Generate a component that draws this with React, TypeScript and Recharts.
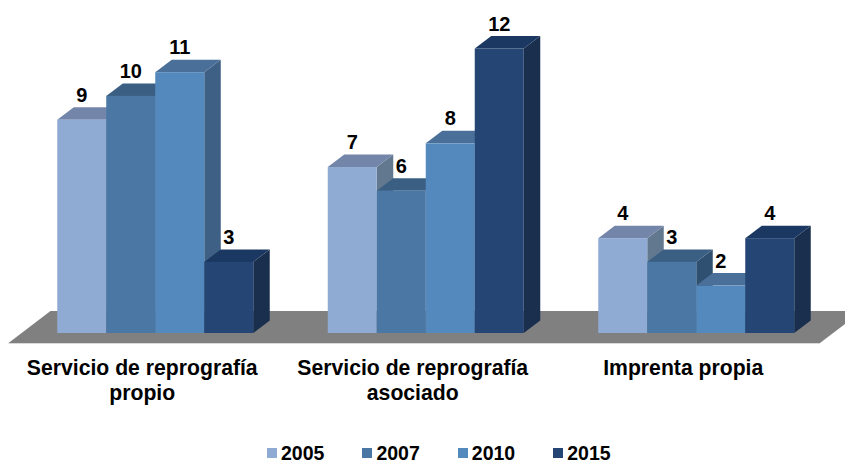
import React from "react";
import { BarChart, Bar, XAxis, YAxis, Legend, LabelList, usePlotArea } from "recharts";

const categories = [
  ["Servicio de reprografía", "propio"],
  ["Servicio de reprografía", "asociado"],
  ["Imprenta propia"],
];
const years = ["2005", "2007", "2010", "2015"];
const v2005 = [9, 7, 4];
const v2007 = [10, 6, 3];
const v2010 = [11, 8, 2];
const v2015 = [3, 12, 4];
const seriesValues = [v2005, v2007, v2010, v2015];
const fronts = ["#8FABD4", "#4A77A3", "#5389BD", "#254674"];
const tops = ["#7386AA", "#3B5F83", "#4A7099", "#1B3862"];
const sides = ["#62788F", "#2F5070", "#3E6085", "#1A2F4E"];

const data = categories.map((c, i) => {
  const row: any = { key: c.join(" ") };
  years.forEach((y, s) => (row[y] = seriesValues[s][i]));
  return row;
});

const FONT = '"Liberation Sans", Arial, sans-serif';
const DX = 16.5;
const DY = 12.5;

function Floor() {
  const p = usePlotArea();
  if (!p) return null;
  const base = p.y + p.height;
  const l = p.x;
  const r = p.x + p.width;
  const pts = [
    [l - 12, base + 10],
    [l + 30, base - 22],
    [r + 30, base - 22],
    [r - 12, base + 10],
  ];
  return (
    <g>
      <polygon points={pts.map((q) => q.join(",")).join(" ")} fill="#808080" />
      <line x1={l - 12} x2={r - 12} y1={base + 10.5} y2={base + 10.5} stroke="#D9D9D9" strokeWidth={1} />
    </g>
  );
}

function Bar3D(props: any) {
  const { x, y, width, height, idx } = props;
  const b = y + height;
  const r = x + width;
  return (
    <g>
      <polygon
        points={`${r},${y} ${r + DX},${y - DY} ${r + DX},${b - DY} ${r},${b}`}
        fill={sides[idx]}
      />
      <polygon
        points={`${x},${y} ${x + DX},${y - DY} ${r + DX},${y - DY} ${r},${y}`}
        fill={tops[idx]}
      />
      <rect x={x} y={y} width={width} height={height} fill={fronts[idx]} />
    </g>
  );
}

function CatTick(props: any) {
  const { x, y, index } = props;
  const lines = categories[index] || [];
  return (
    <text x={x - 13.5} y={y} textAnchor="middle" fontFamily={FONT} fontWeight="bold" fontSize={21.2} fill="#000">
      {lines.map((t, i) => (
        <tspan key={i} x={x - 13.5} y={y + 34 + i * 25}>
          {t}
        </tspan>
      ))}
    </text>
  );
}

function ValueLabel(props: any) {
  const { x, y, width, value } = props;
  return (
    <text x={x + width / 2} y={y - 18} textAnchor="middle" fontFamily={FONT} fontWeight="bold" fontSize={20} fill="#000">
      {value}
    </text>
  );
}

function LegendBox() {
  return (
    <div style={{ position: "relative", width: 845, height: 24 }}>
      {years.map((y, i) => (
        <div
          key={y}
          style={{
            position: "absolute",
            left: 267 + i * 95.4,
            top: 2,
            width: 90,
            height: 22,
            display: "flex",
            alignItems: "center",
            fontFamily: FONT,
            fontWeight: "bold",
            fontSize: 19.5,
            lineHeight: "22px",
            color: "#000",
          }}
        >
          <span style={{ display: "block", width: 10, height: 10, marginRight: 4, background: fronts[i] }} />
          <span style={{ display: "block", whiteSpace: "nowrap" }}>{y}</span>
        </div>
      ))}
    </div>
  );
}

export default function App() {
  return (
    <div style={{ position: "absolute", left: 0, top: 0, width: 845, height: 464, background: "#fff" }}>
      <BarChart
        width={845}
        height={464}
        data={data}
        margin={{ top: 48.5, right: 13, bottom: 0, left: 20.5 }}
        barCategoryGap={36.75}
        barGap={0}
      >
        <Floor />
        <XAxis dataKey="key" axisLine={false} tickLine={false} height={107} interval={0} tick={<CatTick />} />
        <YAxis hide domain={[0, 12]} />
        <Legend
          verticalAlign="bottom"
          content={<LegendBox />}
          wrapperStyle={{ left: 0, bottom: 0, width: 845, height: 24 }}
        />
        {years.map((y, i) => (
          <Bar key={y} dataKey={y} name={y} isAnimationActive={false} shape={(p: any) => <Bar3D {...p} idx={i} />}>
            <LabelList dataKey={y} content={<ValueLabel />} />
          </Bar>
        ))}
      </BarChart>
    </div>
  );
}
